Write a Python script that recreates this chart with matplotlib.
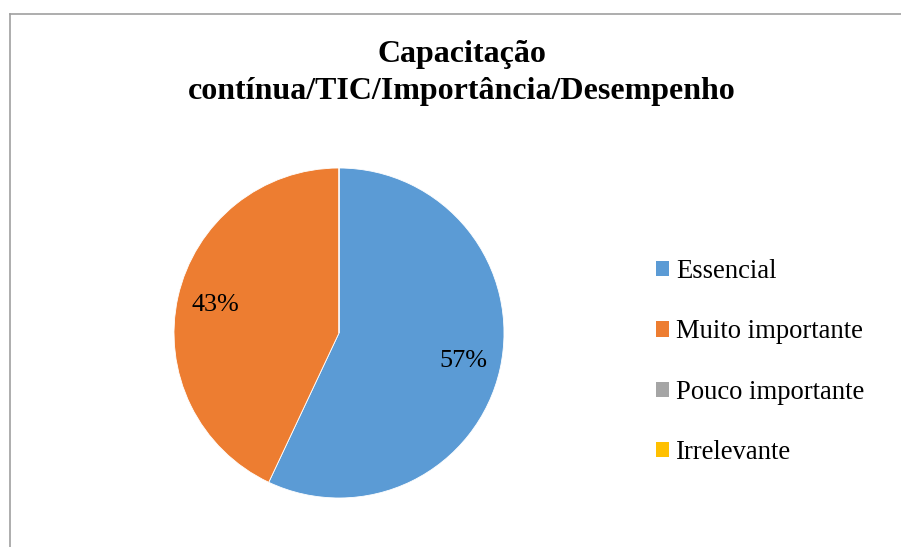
import matplotlib
matplotlib.use("Agg")
import matplotlib.pyplot as plt
from matplotlib.patches import Patch
from matplotlib.lines import Line2D

categories = ["Essencial", "Muito importante", "Pouco importante", "Irrelevante"]
values = [57, 43, 0, 0]
colors = ["#5B9BD5", "#ED7D31", "#A5A5A5", "#FFC000"]
title = "Capacitação\ncontínua/TIC/Importância/Desempenho"

plt.rcParams["font.family"] = ["Liberation Serif", "DejaVu Serif"]

W, H = 901, 547
fig = plt.figure(figsize=(W / 100, H / 100), dpi=100)

# chart border (top and left visible)
fig.add_artist(Line2D([9.5 / W, 9.5 / W], [0, 1 - 13.5 / H], transform=fig.transFigure,
                      color="#A0A0A0", lw=1.2))
fig.add_artist(Line2D([9.5 / W, 1], [1 - 13.5 / H, 1 - 13.5 / H], transform=fig.transFigure,
                      color="#A0A0A0", lw=1.2))

cx, cy, r = 339, 333, 165
ax = fig.add_axes([(cx - r) / W, (H - cy - r) / H, 2 * r / W, 2 * r / H])

def fmt(p):
    return f"{p:.0f}%" if p > 0.5 else ""

wedges, texts, autotexts = ax.pie(values, colors=colors, startangle=90, counterclock=False,
                                  autopct=fmt, pctdistance=0.77,
                                  wedgeprops=dict(edgecolor="white", linewidth=0.6),
                                  textprops=dict(fontsize=18.8, color="#000000"))
ax.set_xlim(-1, 1)
ax.set_ylim(-1, 1)
ax.set_aspect("equal")

fig.text(462 / W, 1 - 73 / H, title, ha="center", va="center", fontsize=23,
         fontweight="bold", linespacing=1.35)

handles = [Patch(facecolor=c, edgecolor="none") for c in colors]
fig.legend(handles, categories, loc="center left", bbox_to_anchor=(656 / W, 1 - 362 / H),
           frameon=False, fontsize=19.2, handlelength=0.5, handleheight=0.5,
           handletextpad=0.25, labelspacing=1.32, borderpad=0, borderaxespad=0)

fig.savefig("out.png", dpi=100, facecolor="white")
